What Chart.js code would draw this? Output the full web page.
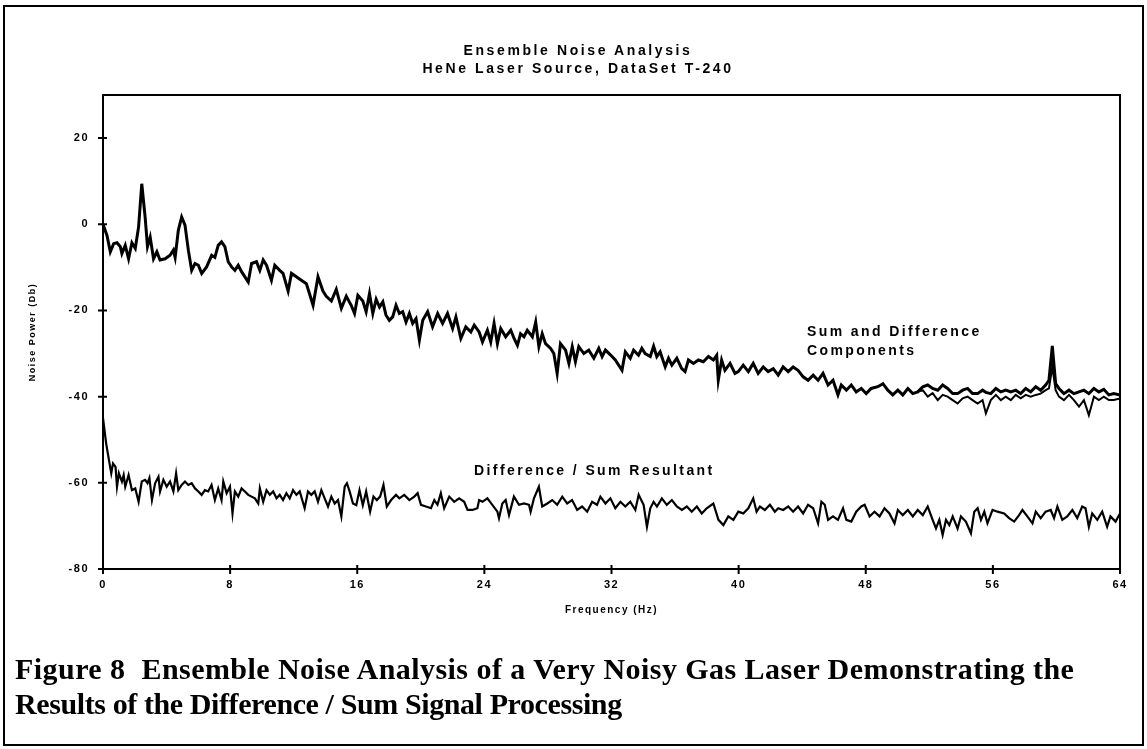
<!DOCTYPE html>
<html>
<head>
<meta charset="utf-8">
<script src="https://cdn.jsdelivr.net/npm/chart.js@4.4.0/dist/chart.umd.min.js"></script>
<style>
  html, body { margin: 0; padding: 0; background: #fff; }
  #page { position: relative; width: 1147px; height: 749px; overflow: hidden; }
  #frame { position: absolute; left: 3px; top: 5px; width: 1137px; height: 737px; border: 2px solid #000; }
  #chart { position: absolute; left: 0; top: 0; }
  .title { position: absolute; left: 0; width: 1156px; text-align: center; color: #000;
           font: bold 14px "Liberation Sans", Arial, sans-serif; letter-spacing: 2.6px; line-height: 16px; }
  #caption { position: absolute; left: 15px; top: 651px; color: #000;
             font: bold 30px "Liberation Serif", "Times New Roman", serif; line-height: 35px; white-space: nowrap; }
  #caption .l1 { letter-spacing: 0.45px; }
  #caption .l2 { letter-spacing: -0.4px; }
</style>
</head>
<body>
<div id="page">
  <div id="frame"></div>
  <canvas id="chart" width="1147" height="749"></canvas>
  <div class="title" style="top:42px">Ensemble Noise Analysis</div>
  <div class="title" style="top:60px">HeNe Laser Source, DataSet T-240</div>
  <div id="caption"><span class="l1">Figure 8&nbsp; Ensemble Noise Analysis of a Very Noisy Gas Laser Demonstrating the</span><br><span class="l2">Results of the Difference / Sum Signal Processing</span></div>
</div>
<script>
// Sum and Difference Components (the two curves run together up to ~51 Hz)
var sumFreq = [0.00,0.25,0.46,0.67,0.88,1.09,1.19,1.40,1.61,1.82,2.03,2.24,2.44,2.65,2.80,2.97,3.18,3.39,3.59,3.91,
  4.22,4.43,4.54,4.74,4.95,5.16,5.37,5.58,5.79,6.00,6.21,6.52,6.84,7.04,7.25,7.46,7.67,7.88,8.09,8.30,
  8.51,8.72,8.93,9.14,9.35,9.66,9.87,10.08,10.29,10.60,10.81,11.12,11.33,11.65,11.86,12.17,12.48,12.80,13.22,13.53,
  13.84,14.05,14.37,14.68,15.00,15.31,15.62,15.83,16.04,16.35,16.56,16.77,16.98,17.19,17.40,17.61,17.81,18.02,18.23,18.44,
  18.65,18.86,19.07,19.28,19.49,19.70,19.91,20.12,20.43,20.74,21.06,21.37,21.68,22.00,22.21,22.52,22.83,23.15,23.36,23.67,
  23.88,24.19,24.40,24.61,24.82,25.03,25.34,25.66,25.87,26.08,26.28,26.49,26.70,27.02,27.23,27.43,27.64,27.85,28.17,28.37,
  28.58,28.79,29.11,29.32,29.53,29.73,29.94,30.26,30.57,30.89,31.20,31.41,31.62,31.93,32.24,32.66,32.87,33.18,33.39,33.70,
  33.91,34.12,34.44,34.65,34.85,35.06,35.38,35.59,35.80,36.11,36.42,36.63,36.84,37.16,37.47,37.78,38.10,38.41,38.62,38.72,
  38.93,39.14,39.46,39.77,39.98,40.29,40.61,40.92,41.23,41.55,41.86,42.18,42.49,42.80,43.12,43.43,43.74,44.06,44.37,44.69,
  45.00,45.31,45.63,45.94,46.25,46.46,46.78,47.09,47.40,47.72,48.03,48.34,48.76,49.08,49.39,49.70,50.02,50.33,50.65,50.96,
  51.27,51.59,51.90,52.21,52.53,52.84,53.15,53.47,53.78,54.10,54.41,54.72,55.04,55.35,55.56,55.87,56.19,56.50,56.81,57.13,
  57.44,57.75,58.07,58.38,58.70,59.01,59.32,59.53,59.74,59.95,60.16,60.47,60.79,61.10,61.42,61.73,62.04,62.36,62.67,62.98,
  63.30,63.61,64.00];
var sumDb = [0.0,-2.6,-6.4,-4.5,-4.3,-5.2,-6.8,-4.9,-8.0,-4.3,-5.6,-0.6,9.4,1.7,-5.2,-3.0,-8.0,-6.4,-8.3,-8.0,
  -7.2,-6.0,-7.7,-1.4,1.7,-0.2,-6.0,-10.7,-9.1,-9.5,-11.4,-9.9,-7.2,-7.7,-4.9,-4.1,-5.2,-8.7,-9.9,-10.7,
  -9.5,-11.0,-12.2,-13.4,-9.1,-8.7,-10.7,-8.3,-9.5,-13.0,-9.5,-10.7,-11.4,-15.5,-11.4,-12.2,-13.0,-13.8,-18.8,-12.2,
  -15.5,-16.7,-17.8,-15.1,-19.5,-16.7,-18.8,-20.7,-16.5,-17.8,-20.3,-16.1,-20.7,-17.4,-19.2,-18.0,-21.1,-22.3,-21.5,-18.8,
  -20.7,-20.3,-22.7,-20.7,-23.0,-21.9,-26.9,-22.3,-20.3,-23.8,-20.7,-23.0,-20.7,-24.2,-21.5,-26.5,-23.8,-25.0,-23.4,-25.0,
  -27.3,-24.6,-27.3,-23.0,-27.7,-24.2,-26.1,-24.6,-26.5,-28.1,-25.4,-26.1,-24.6,-26.1,-22.7,-28.4,-25.4,-27.7,-28.8,-30.0,
  -34.6,-27.7,-29.2,-32.3,-28.4,-31.9,-28.4,-30.0,-29.2,-31.1,-28.8,-30.7,-29.2,-30.3,-31.5,-33.9,-29.6,-31.1,-29.2,-30.4,
  -28.8,-30.0,-30.7,-28.3,-30.7,-29.6,-33.1,-31.1,-32.7,-31.1,-33.5,-34.2,-31.5,-32.3,-31.5,-31.9,-30.7,-31.5,-30.4,-36.2,
  -31.5,-33.9,-32.3,-34.6,-34.2,-32.7,-34.2,-32.3,-34.6,-33.1,-34.2,-33.5,-35.0,-33.1,-34.2,-33.1,-33.9,-35.4,-36.2,-35.0,
  -36.2,-34.6,-37.3,-36.2,-39.6,-37.3,-38.5,-37.3,-38.9,-38.1,-39.3,-38.1,-37.7,-37.0,-38.5,-39.6,-38.5,-39.6,-38.1,-39.3,
  -38.9,-37.7,-37.3,-38.1,-38.5,-37.3,-38.1,-39.3,-39.3,-38.5,-38.1,-39.3,-39.3,-38.5,-39.0,-39.3,-38.1,-38.9,-38.5,-38.9,
  -38.5,-39.3,-38.1,-38.9,-37.7,-38.5,-37.3,-36.2,-28.2,-37.0,-38.1,-39.3,-38.5,-39.3,-38.9,-38.5,-39.3,-38.1,-38.9,-38.3,
  -39.6,-39.3,-39.6];

// lower of the two component curves where they separate
var diffFreq = [51.27,51.59,51.90,52.21,52.53,52.84,53.15,53.47,53.78,54.10,54.41,54.72,55.04,55.35,55.56,55.87,56.19,56.50,56.81,57.13,
  57.44,57.75,58.07,58.38,58.70,59.01,59.32,59.53,59.74,59.95,60.16,60.47,60.79,61.10,61.42,61.73,62.04,62.36,62.67,62.98,
  63.30,63.61,64.00];
var diffDb = [-38.9,-38.5,-40.0,-39.2,-40.8,-39.6,-40.0,-40.8,-41.6,-40.4,-40.0,-40.8,-41.6,-40.8,-43.9,-40.8,-39.6,-40.8,-40.0,-40.8,
  -39.6,-40.4,-39.6,-40.0,-39.6,-39.3,-38.5,-38.1,-33.1,-38.5,-40.0,-40.8,-39.6,-40.8,-42.3,-40.8,-44.3,-40.0,-40.8,-40.0,
  -40.8,-40.8,-40.4];

// Difference / Sum Resultant
var resFreq = [0.00,0.20,0.41,0.52,0.63,0.79,0.88,1.00,1.19,1.30,1.40,1.61,1.82,2.03,2.24,2.44,2.65,2.80,2.92,3.08,
  3.28,3.49,3.59,3.80,4.01,4.22,4.43,4.60,4.74,4.95,5.16,5.37,5.58,5.79,6.00,6.21,6.41,6.62,6.83,7.04,
  7.25,7.46,7.57,7.78,7.99,8.15,8.30,8.51,8.72,8.93,9.14,9.35,9.56,9.77,9.87,10.08,10.29,10.50,10.71,10.92,
  11.12,11.33,11.54,11.75,11.96,12.17,12.38,12.69,12.90,13.11,13.32,13.53,13.74,13.95,14.16,14.37,14.58,14.79,15.00,15.21,
  15.35,15.52,15.73,15.94,16.14,16.35,16.56,16.81,17.02,17.23,17.44,17.65,17.86,18.13,18.44,18.65,18.96,19.28,19.59,19.80,
  20.01,20.32,20.64,20.85,21.05,21.26,21.47,21.79,22.10,22.41,22.73,22.94,23.25,23.56,23.67,23.88,24.19,24.50,24.82,24.92,
  25.13,25.34,25.55,25.86,26.18,26.49,26.81,26.91,27.12,27.43,27.64,27.96,28.27,28.58,28.90,29.21,29.52,29.84,30.15,30.47,
  30.78,31.09,31.30,31.62,31.93,32.24,32.56,32.87,33.18,33.50,33.71,34.02,34.23,34.44,34.65,34.86,35.17,35.48,35.80,36.11,
  36.43,36.74,37.05,37.37,37.68,37.99,38.41,38.73,39.04,39.35,39.67,39.98,40.29,40.61,40.92,41.13,41.34,41.65,41.97,42.28,
  42.49,42.80,43.12,43.43,43.74,44.06,44.37,44.69,45.00,45.21,45.42,45.63,45.94,46.25,46.57,46.78,47.09,47.40,47.72,47.93,
  48.24,48.55,48.87,49.18,49.49,49.81,50.02,50.33,50.65,50.96,51.27,51.59,51.90,52.21,52.42,52.63,52.84,53.05,53.26,53.47,
  53.78,53.99,54.30,54.62,54.83,55.04,55.25,55.46,55.66,55.98,56.29,56.71,57.02,57.34,57.65,57.86,58.17,58.49,58.70,59.01,
  59.32,59.64,59.85,60.06,60.37,60.68,61.00,61.31,61.62,61.83,62.04,62.25,62.57,62.88,63.19,63.40,63.72,64.00];
var resDb = [-45.0,-50.9,-55.5,-57.8,-55.5,-56.3,-60.9,-57.8,-59.7,-58.2,-60.9,-58.2,-61.7,-61.3,-64.4,-59.7,-59.3,-60.1,-58.9,-64.0,
  -60.1,-58.6,-62.0,-59.3,-60.9,-59.7,-62.0,-57.8,-61.7,-60.5,-59.7,-60.5,-60.1,-61.3,-62.0,-62.8,-61.7,-62.0,-60.5,-64.0,
  -61.3,-64.0,-59.7,-62.4,-60.9,-67.1,-62.0,-63.2,-61.3,-62.0,-62.8,-63.2,-63.6,-64.8,-61.3,-64.4,-61.7,-62.8,-62.0,-63.6,
  -62.8,-64.0,-62.4,-63.6,-61.7,-62.8,-62.0,-65.9,-62.0,-62.8,-62.0,-64.4,-61.7,-63.6,-65.5,-63.2,-64.8,-64.0,-67.8,-60.9,
  -60.1,-62.0,-64.8,-65.2,-61.7,-65.2,-62.0,-66.7,-63.2,-64.0,-63.2,-60.5,-65.5,-64.0,-62.8,-63.6,-62.8,-64.0,-63.2,-62.4,
  -65.1,-65.5,-65.9,-64.0,-65.1,-62.4,-65.9,-63.2,-64.4,-63.6,-64.4,-66.3,-66.3,-65.9,-64.0,-64.4,-63.6,-65.1,-66.7,-68.2,
  -64.8,-64.0,-67.5,-63.2,-65.1,-64.8,-65.1,-66.7,-63.6,-60.9,-65.5,-64.8,-64.0,-65.1,-63.2,-64.8,-64.0,-66.3,-65.5,-66.7,
  -64.4,-65.1,-63.2,-64.8,-63.6,-65.9,-64.4,-65.5,-64.4,-66.3,-62.8,-65.1,-70.2,-65.9,-64.4,-65.5,-63.6,-65.1,-64.0,-65.5,
  -66.3,-65.5,-66.7,-65.5,-67.1,-65.9,-64.8,-68.6,-69.8,-67.8,-68.6,-66.7,-67.1,-65.9,-63.6,-66.7,-65.5,-66.3,-65.1,-66.7,
  -65.9,-66.3,-65.5,-66.7,-65.5,-67.1,-65.1,-65.9,-69.4,-64.4,-65.1,-68.6,-67.8,-68.6,-65.9,-68.6,-69.0,-66.7,-65.5,-65.1,
  -67.8,-66.7,-67.8,-65.9,-67.1,-69.4,-66.3,-67.5,-66.3,-67.8,-66.3,-67.5,-65.5,-68.6,-70.6,-68.6,-72.1,-68.6,-69.8,-67.8,
  -70.6,-67.8,-69.0,-71.7,-66.7,-65.9,-68.6,-66.7,-69.4,-66.3,-66.7,-67.1,-68.2,-69.0,-67.5,-66.3,-67.8,-69.4,-66.7,-68.2,
  -66.7,-66.3,-68.2,-65.5,-68.6,-67.8,-66.3,-68.2,-65.5,-65.9,-70.2,-67.1,-68.6,-66.7,-70.2,-67.8,-69.0,-67.1];

var xTicks = [0, 8, 16, 24, 32, 40, 48, 56, 64];
var yTicks = [-80, -60, -40, -20, 0, 20];

// where the two curve labels sit, in data units (Hz, dB)
var sumLabelAt = [44.3, -25.0];
var resLabelAt = [23.35, -57.3];

function toPoints(f, v) {
  var pts = [];
  for (var i = 0; i < f.length; i++) {
    pts.push({x: f[i], y: v[i]});
  }
  return pts;
}

var tickFont = {family: '"Liberation Sans", Arial, sans-serif', size: 11, weight: 'bold'};

var frameAndLabels = {
  id: 'frameAndLabels',
  beforeDraw: function(chart) {
    chart.ctx.letterSpacing = '1.5px';
  },
  afterDraw: function(chart) {
    var ctx = chart.ctx, a = chart.chartArea;
    var xs = chart.scales.x, ys = chart.scales.y;
    ctx.save();
    ctx.strokeStyle = '#000';
    ctx.lineWidth = 2;
    ctx.strokeRect(a.left, a.top, a.right - a.left, a.bottom - a.top);
    ctx.beginPath();
    yTicks.forEach(function(v) {
      var py = ys.getPixelForValue(v);
      ctx.moveTo(a.left - 5, py);
      ctx.lineTo(a.left + 4, py);
    });
    xTicks.forEach(function(v) {
      var px = xs.getPixelForValue(v);
      ctx.moveTo(px, a.bottom - 4);
      ctx.lineTo(px, a.bottom + 5);
    });
    ctx.stroke();

    ctx.fillStyle = '#000';
    ctx.font = 'bold 14px "Liberation Sans", Arial, sans-serif';
    ctx.letterSpacing = '2.4px';
    ctx.textBaseline = 'middle';
    ctx.textAlign = 'left';
    var sx = xs.getPixelForValue(sumLabelAt[0]), sy = ys.getPixelForValue(sumLabelAt[1]);
    ctx.fillText('Sum and Difference', sx, sy);
    ctx.fillText('Components', sx, sy + 19);
    ctx.fillText('Difference / Sum Resultant', xs.getPixelForValue(resLabelAt[0]), ys.getPixelForValue(resLabelAt[1]));
    ctx.restore();
  }
};

new Chart(document.getElementById('chart'), {
  type: 'line',
  data: {
    datasets: [
      { label: 'Sum', data: toPoints(sumFreq, sumDb), borderColor: '#000', borderWidth: 3, pointRadius: 0, tension: 0, fill: false },
      { label: 'Difference', data: toPoints(diffFreq, diffDb), borderColor: '#000', borderWidth: 2, pointRadius: 0, tension: 0, fill: false },
      { label: 'Difference / Sum Resultant', data: toPoints(resFreq, resDb), borderColor: '#000', borderWidth: 2.2, pointRadius: 0, tension: 0, fill: false }
    ]
  },
  options: {
    responsive: false,
    animation: false,
    devicePixelRatio: 1,
    layout: { padding: { left: 0, top: 95, right: 27, bottom: 130 } },
    plugins: { legend: { display: false }, tooltip: { enabled: false } },
    scales: {
      x: {
        type: 'linear',
        min: 0, max: 64,
        afterBuildTicks: function(scale) { scale.ticks = xTicks.map(function(v) { return {value: v}; }); },
        afterFit: function(scale) { scale.height = 50; },
        grid: { display: false, drawTicks: false },
        border: { display: false },
        ticks: { font: tickFont, color: '#000', padding: 9, maxRotation: 0 },
        title: { display: true, text: 'Frequency (Hz)', color: '#000', font: {family: tickFont.family, size: 10, weight: 'bold'}, padding: { top: 4, bottom: 3 } }
      },
      y: {
        type: 'linear',
        min: -80, max: 30,
        afterBuildTicks: function(scale) { scale.ticks = yTicks.map(function(v) { return {value: v}; }); },
        afterFit: function(scale) { scale.width = 103; },
        grid: { display: false, drawTicks: false },
        border: { display: false },
        ticks: { font: tickFont, color: '#000', padding: 14 },
        title: { display: true, text: 'Noise Power (Db)', color: '#000', font: {family: tickFont.family, size: 9, weight: 'bold'}, padding: { top: 27, bottom: 0 } }
      }
    }
  },
  plugins: [frameAndLabels]
});
</script>
</body>
</html>
